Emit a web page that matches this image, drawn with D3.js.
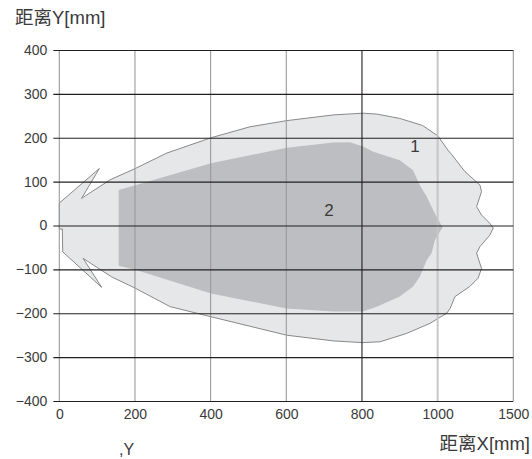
<!DOCTYPE html>
<html>
<head>
<meta charset="utf-8">
<script src="https://cdn.jsdelivr.net/npm/d3@7"></script>
<style>
  body { margin: 0; background: #fff; }
  svg text { font-family: "Liberation Sans", "Noto Sans CJK SC", sans-serif; fill: #3a3a3a; }
</style>
</head>
<body>
<div id="chart"></div>
<script>
// valores
const xTicks = [0, 200, 400, 600, 800, 1000, 1200];
const xTickLabels = ["0", "200", "400", "600", "800", "1000", "1500"];
const yTicks = [400, 300, 200, 100, 0, -100, -200, -300, -400];
const yTickLabels = ["400", "300", "200", "100", "0", "\u2212100", "\u2212200", "\u2212300", "\u2212400"];

// zona 1 (exterior)
const zona1 = [
  [0, 51], [106, 130], [59, 62], [134, 104], [201, 130], [284, 165], [401, 200],
  [504, 225], [601, 239], [724, 252], [802, 256], [839, 254], [900, 244],
  [960, 228], [1001, 204], [1027, 172], [1038, 161], [1072, 123], [1112, 92],
  [1116, 77], [1103, 43], [1116, 24], [1138, 5], [1147, -6], [1138, -22],
  [1112, -48], [1103, -63], [1116, -98], [1107, -120], [1085, -139], [1046, -162],
  [1033, -189], [1024, -200], [980, -223], [918, -246], [848, -265], [802, -267],
  [724, -263], [601, -250], [401, -208], [293, -185], [201, -143], [138, -117],
  [63, -75], [112, -141], [9, -60], [8, -8], [0, -8]
];

// zona 2 (interior)
const zona2 = [
  [157, 81], [201, 92], [401, 142], [601, 177], [724, 189], [768, 190], [803, 180],
  [830, 168], [900, 149], [935, 126], [953, 92], [971, 66], [984, 43], [997, 20],
  [1013, -4], [993, -33], [984, -63], [971, -79], [953, -117], [935, -139],
  [900, -162], [839, -185], [802, -196], [724, -196], [601, -189], [401, -155],
  [201, -101], [157, -92]
];

const etiquetas = [
  {t: "1", x: 940, y: 180},
  {t: "2", x: 713, y: 36}
];

const W = 532, H = 459;

const svg = d3.select("#chart").append("svg")
  .attr("width", W)
  .attr("height", H);

const x = d3.scaleLinear().domain([0, 1200]).range([59.3, 513.3]);
const y = d3.scaleLinear().domain([-400, 400]).range([401, 50]);

const linea = d3.line()
  .x(d => x(d[0]))
  .y(d => y(d[1]))
  .curve(d3.curveLinearClosed);

// Zonas
svg.append("path")
  .attr("d", linea(zona1))
  .attr("fill", "#e6e7e8")
  .attr("stroke", "#7d7d7d")
  .attr("stroke-width", 0.9);

svg.append("path")
  .attr("d", linea(zona2))
  .attr("fill", "#bdbec1");

// Rejilla vertical
svg.append("g")
  .selectAll("line")
  .data(xTicks)
  .enter()
  .append("line")
  .attr("x1", d => x(d))
  .attr("x2", d => x(d))
  .attr("y1", y(400))
  .attr("y2", y(-400))
  .attr("stroke", d => d === 800 ? "#231f20" : (d === 1000 ? "#c6c6c6" : "#9a9a9a"))
  .attr("stroke-width", d => d === 1000 ? 2 : 1.1);

// Eje Y (rejilla horizontal)
const ejeY = svg.append("g")
  .attr("transform", "translate(" + x(1200) + ",0)")
  .call(d3.axisLeft(y)
    .tickValues(yTicks)
    .tickSize(x(1200) - x(0) + 6)
    .tickPadding(6)
    .tickFormat((d, i) => yTickLabels[i]));
ejeY.select(".domain").remove();
ejeY.selectAll("line").attr("stroke", "#231f20").attr("stroke-width", 1.2);
ejeY.selectAll("text")
  .style("font-size", "14px")
  .attr("fill", "#3a3a3a");

// Eje X
const ejeX = svg.append("g")
  .attr("transform", "translate(0," + y(-400) + ")")
  .call(d3.axisBottom(x)
    .tickValues(xTicks)
    .tickSize(0)
    .tickPadding(8)
    .tickFormat((d, i) => xTickLabels[i]));
ejeX.select(".domain").remove();
ejeX.selectAll("text")
  .style("font-size", "14px")
  .attr("fill", "#3a3a3a");

// Etiquetas de zona
svg.append("g")
  .selectAll("text")
  .data(etiquetas)
  .enter()
  .append("text")
  .attr("x", d => x(d.x))
  .attr("y", d => y(d.y))
  .attr("text-anchor", "middle")
  .attr("dy", "0.35em")
  .style("font-size", "17px")
  .text(d => d.t);

// Titulos de ejes
svg.append("text")
  .attr("x", 15)
  .attr("y", 24)
  .style("font-size", "18.5px")
  .text("距离Y[mm]");

svg.append("text")
  .attr("x", 530)
  .attr("y", 450)
  .attr("text-anchor", "end")
  .style("font-size", "18.5px")
  .text("距离X[mm]");

svg.append("text")
  .attr("x", 119)
  .attr("y", 455)
  .style("font-size", "16px")
  .text(",Y");
</script>
</body>
</html>
